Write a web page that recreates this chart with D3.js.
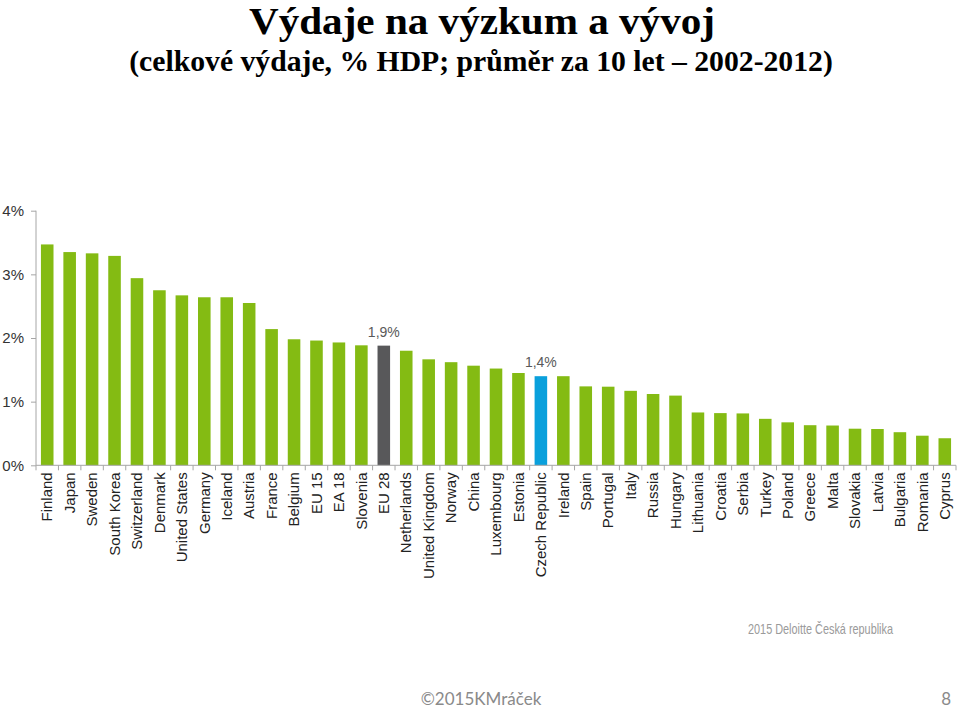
<!DOCTYPE html>
<html>
<head>
<meta charset="utf-8">
<script src="https://cdn.jsdelivr.net/npm/d3@7"></script>
<style>
  html, body { margin: 0; padding: 0; background: #fff; }
  svg { display: block; }
</style>
</head>
<body>
<svg id="chart" width="960" height="709"></svg>
<script>
const categories = ["Finland","Japan","Sweden","South Korea","Switzerland","Denmark","United States","Germany","Iceland","Austria","France","Belgium","EU 15","EA 18","Slovenia","EU 28","Netherlands","United Kingdom","Norway","China","Luxembourg","Estonia","Czech Republic","Ireland","Spain","Portugal","Italy","Russia","Hungary","Lithuania","Croatia","Serbia","Turkey","Poland","Greece","Malta","Slovakia","Latvia","Bulgaria","Romania","Cyprus"];
const values = [3.47,3.35,3.33,3.29,2.94,2.75,2.67,2.64,2.64,2.55,2.14,1.98,1.96,1.93,1.885,1.88,1.80,1.665,1.62,1.565,1.52,1.45,1.40,1.40,1.24,1.235,1.17,1.12,1.095,0.83,0.82,0.815,0.73,0.675,0.63,0.625,0.575,0.57,0.52,0.465,0.425];
const highlights = {"EU 28": "dark", "Czech Republic": "blue"};
const valueLabels = {"EU 28": "1,9%", "Czech Republic": "1,4%"};
const yTicks = [0,1,2,3,4];
const title = "Výdaje na výzkum a vývoj";
const subtitle = "(celkové výdaje, % HDP; průměr za 10 let – 2002-2012)";
const sourceText = "2015 Deloitte Česká republika";
const footerText = "©2015KMráček";
const pageNumber = "8";

const colors = {green: "#84bb13", dark: "#58585a", blue: "#0aa0dc"};

const svg = d3.select("#chart");
const x = d3.scaleBand().domain(categories).range([36, 956]).paddingInner(0.44).paddingOuter(0.22);
const y = d3.scaleLinear().domain([0, 4]).range([465.3, 210.7]);

// Title
svg.append("text").attr("x", 482).attr("y", 34).attr("text-anchor", "middle")
  .style("font-family", "'Liberation Serif','Times New Roman',serif").style("font-weight", "bold")
  .style("font-size", "38px").attr("fill", "#000")
  .attr("textLength", 466).attr("lengthAdjust", "spacingAndGlyphs").text(title);
svg.append("text").attr("x", 481).attr("y", 71).attr("text-anchor", "middle")
  .style("font-family", "'Liberation Serif','Times New Roman',serif").style("font-weight", "bold")
  .style("font-size", "29.7px").attr("fill", "#000").text(subtitle);

// Bars
svg.append("g").selectAll("rect").data(categories).join("rect")
  .attr("x", d => x(d))
  .attr("width", x.bandwidth())
  .attr("y", (d, i) => y(values[i]))
  .attr("height", (d, i) => y(0) - y(values[i]))
  .attr("fill", d => colors[highlights[d] || "green"]);

// Value labels
svg.append("g").selectAll("text").data(categories.filter(d => valueLabels[d])).join("text")
  .attr("x", d => x(d) + x.bandwidth() / 2)
  .attr("y", d => y(values[categories.indexOf(d)]) - 9)
  .attr("text-anchor", "middle")
  .style("font-family", "'Liberation Sans',Arial,sans-serif").style("font-size", "14px")
  .attr("fill", "#595959").text(d => valueLabels[d]);

// Y axis
const yAxis = d3.axisLeft(y).tickValues(yTicks).tickFormat(d => d + "%").tickSize(5).tickPadding(7);
const gy = svg.append("g").attr("transform", "translate(36,0)").call(yAxis);
gy.select(".domain").attr("stroke", "#a6a6a6").attr("d", `M0,${y(4)}V${y(0)}`);
gy.selectAll(".tick line").attr("stroke", "#a6a6a6");
gy.selectAll(".tick text").style("font-family", "'Liberation Sans',Arial,sans-serif")
  .style("font-size", "15px").attr("fill", "#333");

// X axis
const xAxis = d3.axisBottom(x).tickSize(0).tickPadding(0);
const gx = svg.append("g").attr("transform", `translate(0,${y(0)})`).call(xAxis);
gx.select(".domain").attr("stroke", "#a6a6a6").attr("d", `M36,0H956`);
gx.selectAll(".tick text")
  .attr("transform", "translate(0,7) rotate(-90)")
  .attr("x", 0).attr("y", 0).attr("dy", "0.35em")
  .attr("text-anchor", "end")
  .style("font-family", "'Liberation Sans',Arial,sans-serif").style("font-size", "15px")
  .attr("fill", "#222");
// boundary ticks
const step = x.step();
gx.append("g").selectAll("line").data(d3.range(categories.length + 1)).join("line")
  .attr("x1", i => 36 + i * step).attr("x2", i => 36 + i * step)
  .attr("y1", 0).attr("y2", 5).attr("stroke", "#a6a6a6");

// Source
svg.append("text").attr("x", 748).attr("y", 634)
  .style("font-family", "'Liberation Sans',Arial,sans-serif")
  .style("font-size", "15px").attr("fill", "#9a9a9a")
  .attr("textLength", 145).attr("lengthAdjust", "spacingAndGlyphs").text(sourceText);

// Footer
svg.append("text").attr("x", 481).attr("y", 705).attr("text-anchor", "middle")
  .style("font-family", "Lato,'Open Sans',sans-serif").style("font-size", "17px")
  .attr("fill", "#8a8a8a").text(footerText);
svg.append("text").attr("x", 951).attr("y", 705).attr("text-anchor", "end")
  .style("font-family", "Lato,'Open Sans',sans-serif").style("font-size", "17px")
  .attr("fill", "#8a8a8a").text(pageNumber);
</script>
</body>
</html>
